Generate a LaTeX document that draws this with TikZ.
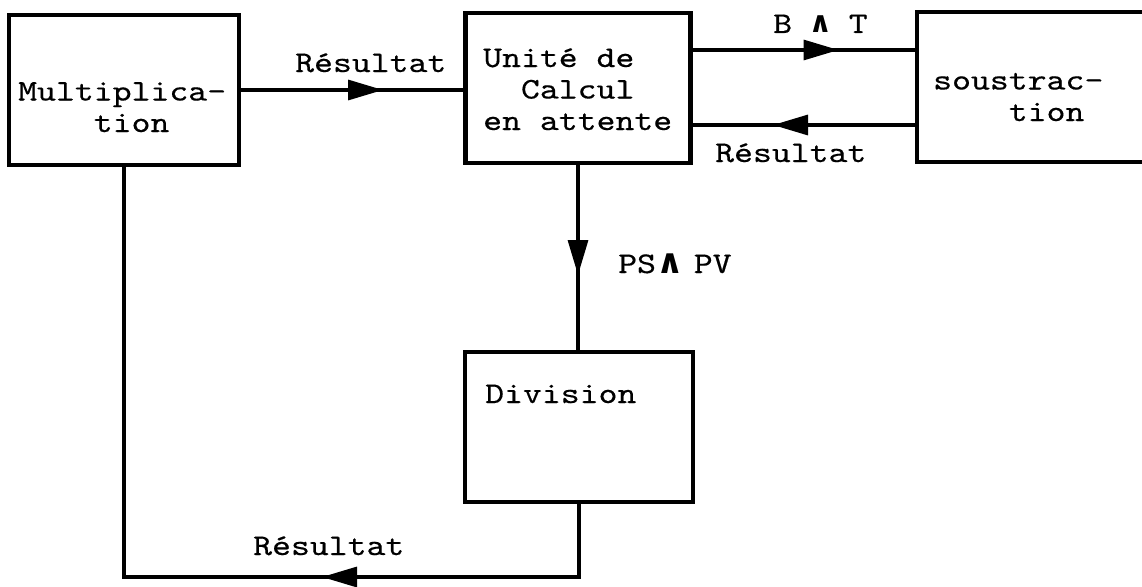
\documentclass[tikz,border=0pt]{standalone}
\usepackage{fontspec}
\setmonofont{lmmono10-regular.otf}[FakeStretch=1.2,FakeBold=0.4]
\newfontfamily\wedgefont{DejaVu Sans}
\usetikzlibrary{arrows.meta,decorations.markings}
\newcommand\andsym[2]{\makebox[\fontcharwd\font`\M][c]{\hspace*{#2}\fontsize{#1}{#1}\wedgefont\bfseries ∧}}
\tikzset{
  box/.style={draw, line width=4.2pt, rectangle, outer sep=0pt, inner sep=0pt},
  conn/.style={line width=3.2pt},
  txt/.style={font=\ttfamily\fontsize{30pt}{31.5pt}\selectfont, inner sep=0pt, align=left},
  midarrow/.style={postaction={decorate}, decoration={markings,
      mark=at position #1 with {\arrow{Triangle[length=35pt,width=20pt]}}}},
}
\begin{document}
\begin{tikzpicture}[x=1pt,y=-1pt]
\clip (0,0) rectangle (1142,586);
\fill[white] (0,0) rectangle (1142,586);

% boxes
\node[box, minimum width=230pt, minimum height=150pt] (mult) at (124,90) {};
\node[box, minimum width=225pt, minimum height=150pt] (unite) at (578,88) {};
\node[box, minimum width=250pt, minimum height=150pt, anchor=west] (sous) at (917,87) {};
\node[box, minimum width=228pt, minimum height=150pt] (div) at (579,427) {};

% box texts (base = baseline of the last line)
\node[txt, anchor=base west] (tmult) at (18,132) {Multiplica-\\\ \ \ \ tion};
\node[txt, anchor=base west] (tunite) at (483,130) {Unité de\\\ \ Calcul\\en attente};
\node[txt, anchor=base west] (tsous) at (933,121) {soustrac-\\\ \ \ \ tion};
\node[txt, anchor=base west] (tdiv) at (485,403) {Division};

% connectors
\draw[conn, midarrow=144pt] (mult.east) -- (mult.east -| unite.west);
\coordinate (uTop) at ([yshift=38pt]unite.east);
\coordinate (uBot) at ([yshift=-37pt]unite.east);
\draw[conn, midarrow=148pt] (uTop) -- (uTop -| sous.west);
\draw[conn, midarrow=144pt] (uBot -| sous.west) -- (uBot);
\draw[conn, midarrow=112pt] (unite.south) -- (unite.south |- div.north);
\coordinate (rc) at ([yshift=-75pt]div.south);
\draw[conn, midarrow=332pt] (div.south) -- (rc) -- (rc -| mult.south) -- (mult.south);

% labels
\node[txt, anchor=base west] (l1) at (295,72) {Résultat};
\node[txt, anchor=base west] (l2) at (773,33) {B \andsym{29pt}{0pt} T};
\node[txt, anchor=base west] (l3) at (715,162) {Résultat};
\node[txt, anchor=base west] (l4) at (618,273) {PS\andsym{34pt}{9pt} PV};
\node[txt, anchor=base west] (l5) at (253,555) {Résultat};
\end{tikzpicture}
\end{document}
